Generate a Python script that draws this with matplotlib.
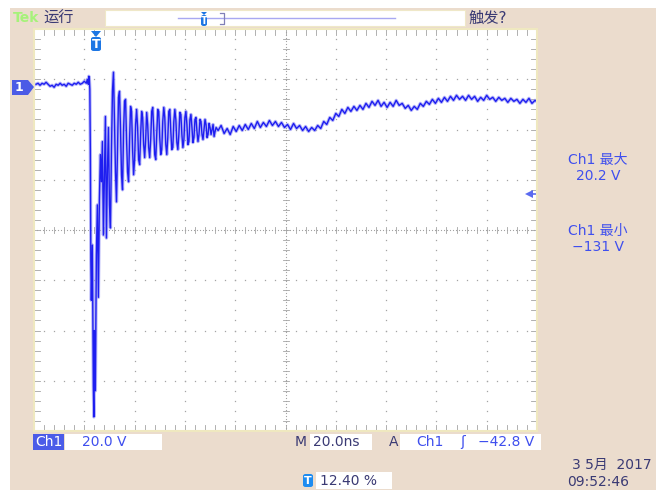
import numpy as np
import matplotlib
matplotlib.use("Agg")
import matplotlib.pyplot as plt
from matplotlib.patches import Rectangle, Polygon, FancyBboxPatch

plt.rcParams['font.family'] = ['DejaVu Sans', 'Noto Sans CJK SC']

####################################### DATA #######################################
# time [ns] relative to trigger, Ch1 voltage [V] relative to the ground marker
t_pre = [-24.0, -23.2, -22.4, -21.6, -20.8, -20.0, -19.2, -18.4, -17.6, -16.8, -16.0, -15.2, -14.4,
         -13.6, -12.8, -12.0, -11.2, -10.4, -9.6, -8.8, -8.0, -7.2, -6.4, -5.6, -4.8, -4.0,
         -3.6, -3.2, -3.0, -2.8, -2.6]
v_pre = [0.8, 1.2, 0.4, 1.2, 0.8, 1.6, 0.8, 0.0, 0.4, -0.4, 0.8, 0.4, 1.2,
         0.4, 0.8, 0.0, 1.2, 0.8, 0.4, 1.2, 0.8, 1.6, 0.8, 1.2, 2.0, 1.2,
         2.8, 0.8, 4.0, 3.2, -1.2]

t_ring = [-2.4, -2.2, -2.0, -1.6, -1.2, -1.0, -0.8, -0.4, 0.0, 0.4, 0.8, 1.2, 1.6, 2.0, 2.4, 2.8,
          3.2, 3.6, 4.0, 4.4, 4.8, 5.2, 5.6, 6.0, 6.4, 6.8, 7.2, 7.6, 8.0, 8.4, 8.8, 9.2,
          9.6, 10.0, 10.4, 10.8, 11.2, 11.6, 12.0, 12.4, 12.8, 13.2, 13.6, 14.0, 14.4, 14.8,
          15.2, 15.6, 16.0, 16.4, 16.8, 17.2, 17.6, 18.0, 18.4, 18.8, 19.2, 19.6, 20.0, 20.4,
          20.8, 21.2, 21.6, 22.0, 22.4, 22.8, 23.2, 23.6, 24.0, 24.4, 24.8, 25.2, 25.6, 26.0,
          26.4, 26.8, 27.2, 27.6, 28.0, 28.4, 28.8, 29.2, 29.6, 30.0, 30.4, 30.8, 31.2, 31.6,
          32.0, 32.4, 32.8, 33.2, 33.6, 34.0, 34.4, 34.8, 35.2, 35.6, 36.0, 36.4, 36.8, 37.2,
          37.6, 38.0, 38.4, 38.8, 39.2, 39.6, 40.0, 40.4, 40.8, 41.2, 41.6, 42.0, 42.4, 42.8,
          43.2, 43.6, 44.0, 44.4, 44.8, 45.2, 45.6, 46.0, 46.4, 46.8, 47.2, 47.6]
v_ring = [-25.2, -69.2, -85.2, -63.2, -119.2, -131.6, -97.2, -121.2, -67.2, -47.2, -84.0, -45.2,
          -27.2, -38.0, -22.0, -59.2, -36.4, -12.0, -60.4, -33.2, -16.4, -47.2, -56.4, -25.2,
          -2.0, 5.6, -13.2, -34.0, -46.0, -25.2, -4.4, -2.0, -17.2, -35.2, -41.2, -18.0,
          -6.0, -5.2, -21.2, -34.0, -38.0, -21.2, -8.0, -10.0, -25.2, -35.2, -29.2, -15.2,
          -9.2, -16.4, -29.2, -31.2, -19.2, -10.0, -12.4, -23.2, -28.4, -21.2, -10.4, -15.2,
          -24.4, -28.4, -21.2, -10.0, -8.4, -17.2, -27.2, -29.2, -19.2, -9.2, -10.0, -20.4,
          -27.2, -25.2, -14.0, -8.4, -12.4, -23.2, -27.2, -20.4, -10.0, -9.2, -18.0, -25.2,
          -24.4, -14.0, -9.2, -13.2, -22.4, -25.2, -19.2, -10.4, -11.2, -19.2, -24.4, -21.2,
          -12.4, -10.0, -15.2, -23.2, -22.0, -13.2, -11.2, -16.4, -22.4, -20.4, -13.2, -12.4,
          -18.0, -22.0, -19.2, -13.2, -14.0, -19.2, -21.2, -17.2, -13.2, -15.2, -20.4, -19.2,
          -14.8, -16.4, -19.2, -17.2, -15.2, -20.0, -18.0, -16.4]

t_tail = [48.4, 49.6, 50.8, 52.0, 53.2, 54.4, 55.6, 56.8, 58.0, 59.2, 60.4, 61.6, 62.8, 64.0,
          65.2, 66.4, 67.6, 68.8, 70.0, 71.2, 72.4, 73.6, 74.8, 76.0, 77.2, 78.4, 79.6, 80.8,
          82.0, 83.2, 84.4, 85.6, 86.8, 88.0, 89.2, 90.4, 91.6, 92.8, 94.0, 95.2, 96.4, 97.6,
          98.8, 100.0, 101.2, 102.4, 103.6, 104.8, 106.0, 107.2, 108.4, 109.6, 110.8, 112.0,
          113.2, 114.4, 115.6, 116.8, 118.0, 119.2, 120.4, 121.6, 122.8, 124.0, 125.2, 126.4,
          127.6, 128.8, 130.0, 131.2, 132.4, 133.6, 134.8, 136.0, 137.2, 138.4, 139.6, 140.8,
          142.0, 143.2, 144.4, 145.6, 146.8, 148.0, 149.2, 150.4, 151.6, 152.8, 154.0, 155.2,
          156.4, 157.6, 158.8, 160.0, 161.2, 162.4, 163.6, 164.8, 166.0, 167.2, 168.4, 169.6,
          170.8, 172.0, 173.2, 174.4, 175.6]
v_tail = [-17.6, -15.6, -18.8, -16.8, -19.2, -16.0, -18.0, -15.6, -17.6, -15.2, -17.2, -14.8,
          -16.8, -14.0, -16.4, -14.4, -16.0, -13.6, -15.6, -14.0, -16.0, -14.4, -16.4, -15.2,
          -17.2, -14.8, -16.8, -15.6, -17.6, -16.0, -18.0, -16.4, -17.6, -15.6, -16.8, -14.0,
          -15.2, -12.4, -13.6, -10.8, -12.0, -9.2, -10.8, -8.4, -10.0, -8.0, -9.6, -7.6,
          -9.2, -6.8, -8.4, -6.0, -7.6, -5.6, -8.0, -6.4, -8.4, -6.4, -8.0, -5.6,
          -7.6, -6.8, -8.8, -7.6, -9.6, -8.0, -9.2, -6.8, -8.0, -6.0, -7.2, -5.2,
          -6.8, -4.8, -6.4, -4.4, -6.0, -4.0, -5.6, -3.6, -5.2, -4.0, -5.6, -3.6,
          -5.2, -4.0, -6.0, -4.4, -5.6, -3.6, -5.2, -4.4, -6.0, -4.4, -5.6, -4.8,
          -6.4, -4.8, -6.0, -5.2, -6.8, -5.2, -6.4, -4.8, -6.8, -5.6, -6.4]

volts_per_div = 20.0
ns_per_div = 20.0
trig_pos = 0.124          # 12.40 %
trig_level = -42.8        # V
ground_div = 2.86         # ground marker above screen centre [div]

####################################### Figure #######################################
W, H = 664, 496
fig = plt.figure(figsize=(W / 100, H / 100), dpi=100, facecolor='white')

def fx(x):
    return x / W

def fy(y):
    return 1 - y / H

def box(x0, y0, x1, y1, color, edge='none', z=1):
    fig.patches.append(Rectangle((fx(x0), fy(y1)), (x1 - x0) / W, (y1 - y0) / H,
                                 transform=fig.transFigure, facecolor=color,
                                 edgecolor=edge, lw=0.8, zorder=z))

def poly(pts, color, z=10):
    fig.patches.append(Polygon([(fx(a), fy(b)) for a, b in pts], closed=True,
                               transform=fig.transFigure, facecolor=color, edgecolor='none', zorder=z))

def rbox(x0, y0, w, h, color, z=10):
    fig.patches.append(FancyBboxPatch((fx(x0), fy(y0 + h)), w / W, h / H,
                                      boxstyle='round,pad=0,rounding_size=0.004',
                                      transform=fig.transFigure, facecolor=color,
                                      edgecolor='none', zorder=z))

def label(x, y, s, color, size=10, ha='left', **kw):
    fig.text(fx(x), fy(y), s, color=color, fontsize=size, ha=ha, va='center', zorder=11, **kw)

beige = '#EBDCCD'
navy = '#3A3A74'
blue = '#3F4FEE'
tblue = '#1C76E4'

box(10, 8, 656, 490, beige, z=-5)

# top bar
label(13, 18, 'Tek', '#A6F27A', size=10, weight='bold')
label(43, 18, '运行', navy, size=11)
box(105, 10, 465, 26, 'white', edge='#EFE8C8')
fig.lines.append(plt.Line2D([fx(178), fx(395)], [fy(18), fy(18)], transform=fig.transFigure,
                            color='#A8A8F2', lw=1.0))
fig.lines.append(plt.Line2D([fx(220), fx(224), fx(224), fx(220)], [fy(13), fy(13), fy(24), fy(24)],
                            transform=fig.transFigure, color='#8080B8', lw=0.9))
poly([(201, 12), (207, 12), (204, 15)], tblue)
rbox(201, 15, 6, 11, tblue)
label(204, 20.5, 'T', 'white', size=7, ha='center', weight='bold')
label(468, 18, '触发?', navy, size=11)

####################################### Screen #######################################
ax = fig.add_axes([fx(34), fy(431), 503 / W, 402 / H])
ax.set_zorder(2)
ax.set_facecolor('white')
x0 = -trig_pos * 10 * ns_per_div
ax.set_xlim(x0, x0 + 10 * ns_per_div)
y_mid = -ground_div * volts_per_div
ax.set_ylim(y_mid - 4 * volts_per_div, y_mid + 4 * volts_per_div)
ax.set_xticks([])
ax.set_yticks([])
for s in ax.spines.values():
    s.set_color('#EFE8C0')
    s.set_linewidth(1.5)

# graticule (axes fraction)
gcol = '#A4A4A4'
tr = ax.transAxes
for i in range(1, 10):
    if i == 5:
        continue
    yy = np.linspace(0, 1, 41)
    ax.plot(np.full_like(yy, i / 10), yy, ls='none', marker='s', ms=0.9, mew=0, color=gcol, transform=tr)
for k in range(1, 8):
    if k == 4:
        continue
    xx = np.linspace(0, 1, 51)
    ax.plot(xx, np.full_like(xx, k / 8), ls='none', marker='s', ms=0.9, mew=0, color=gcol, transform=tr)
# centre cross, dense dots + ticks
xx = np.linspace(0, 1, 168)
ax.plot(xx, np.full_like(xx, 0.5), ls='none', marker='s', ms=0.8, mew=0, color=gcol, transform=tr)
yy = np.linspace(0, 1, 135)
ax.plot(np.full_like(yy, 0.5), yy, ls='none', marker='s', ms=0.8, mew=0, color=gcol, transform=tr)
dx, dy = 3 / 503, 3 / 402
for j in range(51):
    xj = j / 50
    ax.plot([xj, xj], [0.5 - dy, 0.5 + dy], color=gcol, lw=0.6, transform=tr)
    ax.plot([xj, xj], [1 - 2 * dy, 1], color=gcol, lw=0.6, transform=tr)
    ax.plot([xj, xj], [0, 2 * dy], color=gcol, lw=0.6, transform=tr)
for j in range(41):
    yj = j / 40
    ax.plot([0.5 - dx, 0.5 + dx], [yj, yj], color=gcol, lw=0.6, transform=tr)
    ax.plot([0, 2 * dx], [yj, yj], color=gcol, lw=0.6, transform=tr)
    ax.plot([1 - 2 * dx, 1], [yj, yj], color=gcol, lw=0.6, transform=tr)

# trace
t = np.concatenate([t_pre, t_ring, t_tail])
v = np.concatenate([v_pre, v_ring, v_tail])
ax.plot(t, v, color='#9A9AF6', lw=2.4, alpha=0.7)
ax.plot(t, v, color='#1E1EF0', lw=1.0)

# trigger level arrow on the right edge
xr = x0 + 10 * ns_per_div
ax.plot([xr - 2.0, xr], [trig_level, trig_level], color='#5A6AF0', lw=1.2)
ax.plot([xr - 3.0], [trig_level], marker='<', ms=6, mew=0, color='#5A6AF0', ls='none')

# trigger position marker at top of screen
poly([(91, 31), (101, 31), (96, 37)], tblue)
rbox(91, 37, 10, 14, tblue)
label(96, 44, 'T', 'white', size=9, ha='center', weight='bold')

# ground marker "1"
poly([(12, 80), (28, 80), (34, 87), (28, 95), (12, 95)], '#4B5BE6')
label(19, 87.5, '1', 'white', size=9, ha='center', weight='bold')

####################################### Readouts #######################################
label(598, 160, 'Ch1 最大', blue, size=10, ha='center')
label(598, 176, '20.2 V', blue, size=10, ha='center')
label(598, 231, 'Ch1 最小', blue, size=10, ha='center')
label(598, 247, '\u2212131 V', blue, size=10, ha='center')

box(33, 434, 64, 450, '#4B5CE8')
label(48.5, 442, 'Ch1', 'white', size=10, ha='center')
box(65, 434, 162, 450, 'white')
label(82, 442, '20.0 V', blue, size=10)

label(295, 442, 'M', navy, size=10)
box(310, 434, 372, 450, 'white')
label(313, 442, '20.0ns', navy, size=10)
label(389, 442, 'A', navy, size=10)
box(400, 434, 541, 450, 'white')
label(416, 442, 'Ch1', blue, size=10)
label(460, 442, 'ʃ', blue, size=10)
label(478, 442, '\u221242.8 V', blue, size=10)

label(652, 465, '3 5月  2017', navy, size=10, ha='right')
label(629, 482, '09:52:46', navy, size=10, ha='right')

rbox(303, 474, 10, 13, '#1E8CF0')
label(308, 480.5, 'T', 'white', size=8, ha='center', weight='bold')
box(316, 472, 392, 489, 'white')
label(320, 481, '12.40 %', navy, size=10)

fig.savefig('out.png', dpi=100)
